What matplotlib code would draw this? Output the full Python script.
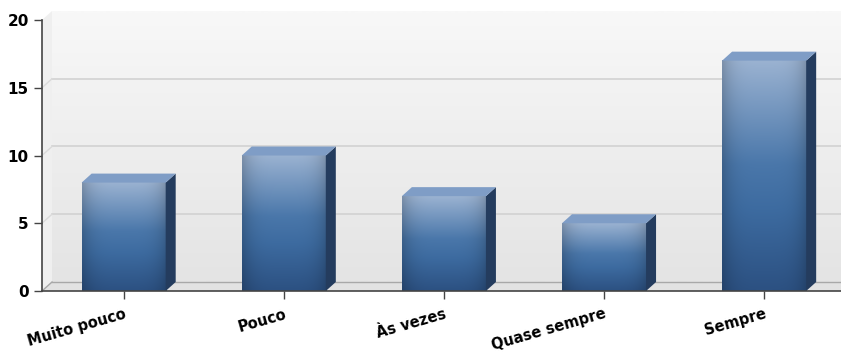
import numpy as np
import matplotlib.pyplot as plt
from matplotlib.patches import Polygon
from matplotlib.colors import to_rgb

categories = ['Muito pouco', 'Pouco', 'Às vezes', 'Quase sempre', 'Sempre']
values = [8, 10, 7, 5, 17]
y_ticks = [0, 5, 10, 15, 20]

plt.rcParams['font.family'] = ['DejaVu Sans']

fig = plt.figure(figsize=(8.41, 3.63), dpi=100)
ax = fig.add_axes([42 / 841, 72 / 363, 799 / 841, 271 / 363])
ax.set_xlim(-0.02, 4.97)
ax.set_ylim(0, 20)

# depth of the fake 3d, in data units
dx = 10 / 160.2
dy = 9 / 13.55


def vgrad(c_top, c_bot, n=64):
    t = np.linspace(0, 1, n)[:, None]
    a = np.array(to_rgb(c_bot))
    b = np.array(to_rgb(c_top))
    return (a + (b - a) * t)[:, None, :]


# back wall with gradient
wall = vgrad('#f8f8f8', '#e4e4e4')
ax.imshow(wall, extent=(dx - 0.02, 5.2, dy, 20 + dy), origin='lower', aspect='auto',
          interpolation='bilinear', zorder=0, clip_on=False)
# left side wall
ax.add_patch(Polygon([(-0.02, 0), (-0.02 + dx, dy), (-0.02 + dx, 20 + dy), (-0.02, 20)],
                     closed=True, fc='#efefef', ec='none', zorder=1, clip_on=False))
# floor
ax.add_patch(Polygon([(-0.02, 0), (5.2, 0), (5.2, dy), (-0.02 + dx, dy)],
                     closed=True, fc='#e2e2e2', ec='none', zorder=1, clip_on=False))
ax.plot([-0.02 + dx, 5.2], [dy, dy], color='#a8a8a8', lw=1, zorder=1.5, clip_on=False)
ax.plot([-0.02, -0.02 + dx], [0, dy], color='#a8a8a8', lw=1, zorder=1.5, clip_on=False)

# grid lines on the back wall
for v in y_ticks[1:-1]:
    ax.plot([-0.02 + dx, 5.2], [v + dy, v + dy], color='#d2d2d2', lw=1.2, zorder=1.2, clip_on=False)
    ax.plot([-0.02, -0.02 + dx], [v, v + dy], color='#dadada', lw=1, zorder=1.2, clip_on=False)

# bars
w = 0.525
stops = np.array([to_rgb('#2c5182'), to_rgb('#3d6ba0'), to_rgb('#4a77aa'), to_rgb('#9ab2d1')])
pos = np.array([0.0, 0.35, 0.55, 1.0])
for i, v in enumerate(values):
    x0 = i + 0.49 - w / 2
    x1 = x0 + w
    t = np.linspace(0, 1, 80)
    col = np.stack([np.interp(t, pos, stops[:, k]) for k in range(3)], axis=1)
    h = np.linspace(-1, 1, 40)
    shade = 1 - 0.18 * np.abs(h) ** 4
    img = col[:, None, :] * shade[None, :, None]
    ax.imshow(img, extent=(x0, x1, 0, v), origin='lower', aspect='auto',
              interpolation='bilinear', zorder=3)
    # side face
    ax.add_patch(Polygon([(x1, 0), (x1 + dx, dy), (x1 + dx, v + dy), (x1, v)],
                         closed=True, fc='#243c5e', ec='none', zorder=3))
    # top face
    ax.add_patch(Polygon([(x0, v), (x0 + dx, v + dy), (x1 + dx, v + dy), (x1, v)],
                         closed=True, fc='#7f9dc6', ec='none', zorder=3, clip_on=False))

ax.set_xlim(-0.02, 4.97)
ax.set_ylim(0, 20)

ax.set_xticks([i + 0.49 for i in range(len(categories))])
ax.set_xticklabels(categories, rotation=16, ha='right', rotation_mode='anchor',
                   fontsize=10.5, fontweight='bold')
ax.set_yticks(y_ticks)
ax.set_yticklabels([str(t) for t in y_ticks], fontsize=11, fontweight='bold')
ax.tick_params(axis='both', colors='#444444', length=6, width=1, labelcolor='black')
ax.tick_params(axis='x', pad=5)

for s in ['top', 'right']:
    ax.spines[s].set_visible(False)
for s in ['left', 'bottom']:
    ax.spines[s].set_color('#444444')
    ax.spines[s].set_linewidth(1.2)
    ax.spines[s].set_zorder(5)

fig.savefig('out.png', dpi=100)
